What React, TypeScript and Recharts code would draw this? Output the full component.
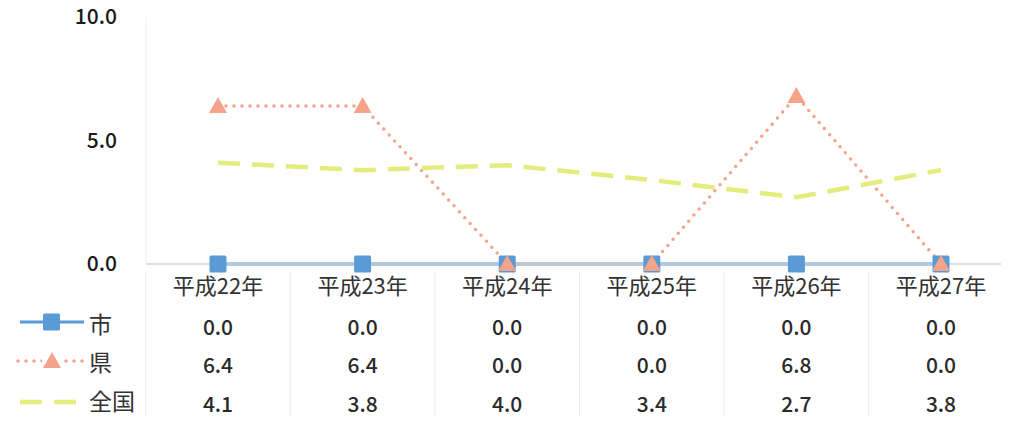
import React from "react";
import { LineChart, Line, XAxis, YAxis } from "recharts";

const categories = ["平成22年", "平成23年", "平成24年", "平成25年", "平成26年", "平成27年"];
const cityValues = [0, 0, 0, 0, 0, 0];
const prefValues = [6.4, 6.4, 0, 0, 6.8, 0];
const nationValues = [4.1, 3.8, 4.0, 3.4, 2.7, 3.8];
const yTicks = [0, 5, 10];
const seriesNames = ["市", "県", "全国"];

const BLUE = "#5B9BD5";
const SALMON = "#F5A38B";
const YELLOW = "#E4EC7C";
const FONT = "'Noto Sans CJK JP', 'Noto Sans', sans-serif";

const data = categories.map((name, i) => ({
  name,
  city: cityValues[i],
  pref: prefValues[i],
  nation: nationValues[i],
}));

const rowY = [326, 364, 403];
const rows = [cityValues, prefValues, nationValues];

function TableTick(props: any) {
  const { x, payload } = props;
  const i = categories.indexOf(payload.value);
  const half = 72.3;
  return (
    <g>
      <line x1={x - half} x2={x - half} y1={272} y2={424} stroke="#ececec" />
      {i === categories.length - 1 && (
        <line x1={x + half} x2={x + half} y1={272} y2={424} stroke="#ececec" />
      )}
      <text x={x} y={284} textAnchor="middle" dominantBaseline="central"
        fontSize={22} fill="#333" fontFamily={FONT}>
        {payload.value}
      </text>
      {rows.map((r, k) => (
        <text key={k} x={x} y={rowY[k]} textAnchor="middle" dominantBaseline="central"
          fontSize={21} fill="#2a2a2a" fontFamily={FONT} fontWeight={500}>
          {r[i].toFixed(1)}
        </text>
      ))}
    </g>
  );
}

function Triangle(props: any) {
  const { cx, cy } = props;
  if (cx == null || cy == null) return null;
  return <polygon points={`${cx},${cy - 9} ${cx - 9},${cy + 7} ${cx + 9},${cy + 7}`} fill={SALMON} />;
}

function Square(props: any) {
  const { cx, cy } = props;
  if (cx == null || cy == null) return null;
  return <rect x={cx - 8.5} y={cy - 8.5} width={17} height={17} rx={1.5} fill={BLUE} />;
}

function LegendKeys() {
  return (
    <svg width={146} height={424} style={{ position: "absolute", left: 0, top: 0, pointerEvents: "none" }}>
      <line x1={20} x2={84} y1={322} y2={322} stroke={BLUE} strokeWidth={3} />
      <rect x={43} y={313.5} width={17} height={17} rx={1.5} fill={BLUE} />
      <line x1={18} x2={84} y1={361} y2={361} stroke={SALMON} strokeWidth={3.5}
        strokeDasharray="0 8" strokeLinecap="round" />
      <rect x={42} y={352} width={20} height={16} fill="#fff" />
      <polygon points="52,352 43,368 61,368" fill={SALMON} />
      <line x1={20} x2={84} y1={402} y2={402} stroke={YELLOW} strokeWidth={4.5} strokeDasharray="22 12" />
      {seriesNames.map((n, k) => (
        <text key={n} x={89} y={rowY[k] - 3} dominantBaseline="central" fontSize={23}
          fill="#333" fontFamily={FONT}>
          {n}
        </text>
      ))}
    </svg>
  );
}

export default function App() {
  return (
    <div style={{ margin: -8, width: 1009, height: 424, overflow: "hidden", position: "relative", background: "#fff" }}>
      <LineChart width={1020} height={424} data={data}
        margin={{ top: 17, right: 7, bottom: 130, left: 0 }}>
        <XAxis dataKey="name" padding={{ left: 72, right: 72 }} tickLine={false}
          axisLine={{ stroke: "#d6d6d6", strokeWidth: 1.5 }} tick={<TableTick />} interval={0} />
        <YAxis width={146} domain={[0, 10]} ticks={yTicks} tickLine={false}
          axisLine={{ stroke: "#f0f0f0" }} tickMargin={23}
          tickFormatter={(v: number) => v.toFixed(1)}
          tick={{ fill: "#1a1a1a", fontSize: 21, fontFamily: FONT, fontWeight: 500 }} />
        <Line dataKey="city" name="市" stroke={BLUE} strokeWidth={3} dot={<Square />}
          isAnimationActive={false} />
        <Line dataKey="pref" name="県" stroke={SALMON} strokeWidth={3.5} strokeDasharray="0 8"
          strokeLinecap="round" dot={<Triangle />} isAnimationActive={false} />
        <Line dataKey="nation" name="全国" stroke={YELLOW} strokeWidth={4.5} strokeDasharray="22 12"
          dot={false} isAnimationActive={false} />
      </LineChart>
      <LegendKeys />
    </div>
  );
}
